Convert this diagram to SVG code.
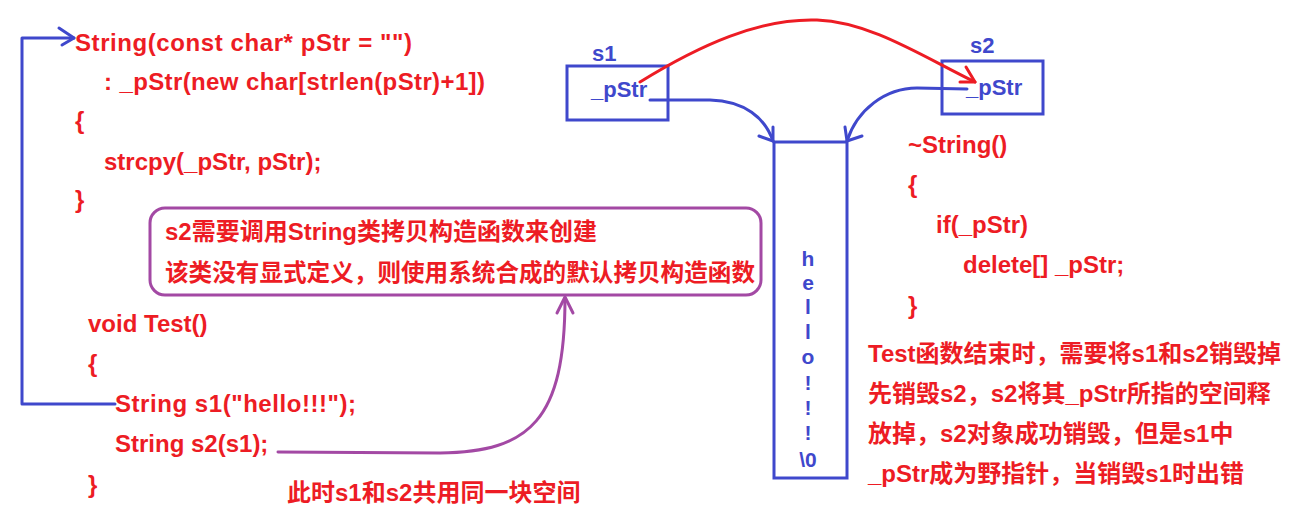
<svg xmlns="http://www.w3.org/2000/svg" width="1289" height="521" viewBox="0 0 1289 521">
<style>
.t { font-family: "Liberation Sans", "Noto Sans CJK SC", sans-serif; font-weight: bold; font-size: 24px; fill: #ed1c24; }
.b { fill: #3f48cc; }
.lb { font-size: 22px; }
.ch { font-size: 21px; text-anchor: middle; }
.box { fill: none; stroke: #3f48cc; stroke-width: 3; }
.ln { fill: none; stroke-width: 3; stroke-linecap: round; stroke-linejoin: round; }
.blue { stroke: #3f48cc; }
.red { stroke: #ed1c24; }
.pur { stroke: #a349a4; }
</style>
<rect width="1289" height="521" fill="#ffffff"/>

<g id="ctor">
<text class="t" x="75" y="51" textLength="337" lengthAdjust="spacing">String(const char* pStr = "")</text>
<text class="t" x="104" y="90" textLength="381" lengthAdjust="spacing">: _pStr(new char[strlen(pStr)+1])</text>
<text class="t" x="75" y="129">{</text>
<text class="t" x="104" y="170">strcpy(_pStr, pStr);</text>
<text class="t" x="75" y="208">}</text>
</g>

<g id="note-copy">
<rect x="150" y="208" width="611" height="87" rx="15" ry="15" fill="none" stroke="#a349a4" stroke-width="3"/>
<text class="t" x="165" y="240">s2需要调用String类拷贝构造函数来创建</text>
<text class="t" x="165" y="281" textLength="590" lengthAdjust="spacingAndGlyphs">该类没有显式定义，则使用系统合成的默认拷贝构造函数</text>
</g>

<g id="test">
<text class="t" x="88" y="332">void Test()</text>
<text class="t" x="88" y="372">{</text>
<text class="t" x="115" y="412" textLength="241" lengthAdjust="spacing">String s1("hello!!!");</text>
<text class="t" x="115" y="452">String s2(s1);</text>
<text class="t" x="88" y="493">}</text>
</g>

<g id="note-share">
<text class="t" x="287" y="501">此时s1和s2共用同一块空间</text>
</g>

<g id="s1">
<text class="t b lb" x="592" y="61">s1</text>
<rect class="box" x="567" y="66" width="101" height="54"/>
<text class="t b lb" x="591" y="97">_pStr</text>
</g>

<g id="s2">
<text class="t b lb" x="970" y="53">s2</text>
<rect class="box" x="942" y="61" width="101" height="53"/>
<text class="t b lb" x="966" y="95">_pStr</text>
</g>

<g id="heap">
<rect class="box" x="774" y="142" width="73" height="336"/>
<text class="t b ch" x="808" y="266">h</text>
<text class="t b ch" x="808" y="290">e</text>
<text class="t b ch" x="808" y="314">l</text>
<text class="t b ch" x="808" y="339">l</text>
<text class="t b ch" x="808" y="364">o</text>
<text class="t b ch" x="808" y="390">!</text>
<text class="t b ch" x="808" y="415">!</text>
<text class="t b ch" x="808" y="440">!</text>
<text class="t b ch" x="808" y="467">\0</text>
</g>

<g id="dtor">
<text class="t" x="908" y="153">~String()</text>
<text class="t" x="908" y="193">{</text>
<text class="t" x="936" y="233">if(_pStr)</text>
<text class="t" x="963" y="273">delete[] _pStr;</text>
<text class="t" x="908" y="314">}</text>
</g>

<g id="explain">
<text class="t" x="868" y="362">Test函数结束时，需要将s1和s2销毁掉</text>
<text class="t" x="868" y="402">先销毁s2，s2将其_pStr所指的空间释</text>
<text class="t" x="868" y="442">放掉，s2对象成功销毁，但是s1中</text>
<text class="t" x="868" y="482">_pStr成为野指针，当销毁s1时出错</text>
</g>

<g id="connectors">
<path class="ln blue" d="M115,404 L22,404 L22,38 L74,38"/>
<path class="ln blue" d="M59,28 L74,38 L62,45"/>
<path class="ln pur" d="M278,452 L440,453 C530,452 565,420 565,298"/>
<path class="ln pur" d="M557,313 L565,297 L573,313"/>
<path class="ln red" d="M640,82 C700,45 760,18 817,20 C870,22 920,55 975,82"/>
<path class="ln red" d="M966,67 L975,82 L960,82"/>
<path class="ln blue" d="M650,100 L710,100 C745,101 765,118 773,141"/>
<path class="ln blue" d="M759,136 L773,141 L773,127"/>
<path class="ln blue" d="M967,89 L917,88 C885,88 857,110 847,141"/>
<path class="ln blue" d="M845,127 L847,141 L862,136"/>
</g>
</svg>
